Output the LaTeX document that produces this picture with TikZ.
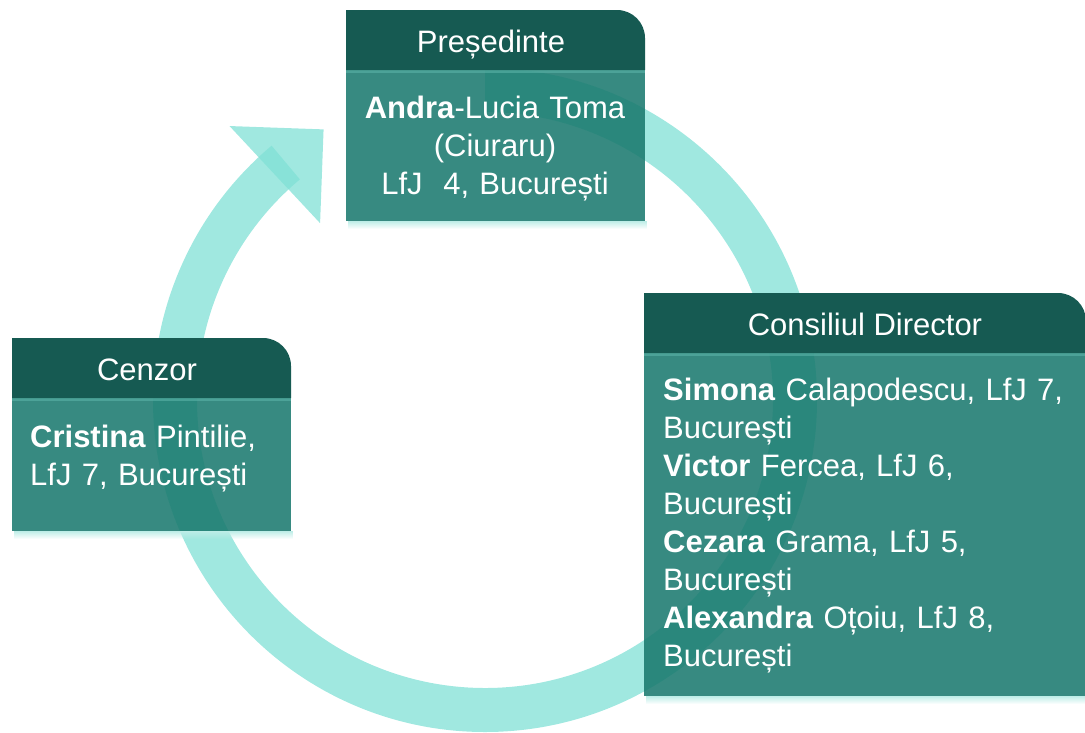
\documentclass[tikz,border=0pt]{standalone}
\usepackage{fontspec}
\setmainfont{Liberation Sans}
\usepackage{tikz}
\usetikzlibrary{calc,fadings}
\definecolor{headcol}{HTML}{165A52}
\definecolor{bodycol}{HTML}{19796E}
\definecolor{ringcol}{HTML}{80E0D5}
\definecolor{edgecol}{HTML}{5BB3A8}
\definecolor{glowcol}{HTML}{BDEDE7}
\tikzset{
    ring/.style={
        fill=ringcol,
        opacity=0.75
    },
    cardbody/.style={
        fill=bodycol,
        opacity=0.87
    },
    cardhead/.style={
        fill=headcol
    },
    headtext/.style={
        text=white,
        inner sep=0pt,
        anchor=base,
        font=\fontsize{31}{38}\selectfont
    },
    bodytext/.style={
        text=white,
        inner sep=0pt,
        anchor=base west,
        align=left,
        font=\fontsize{31}{38}\selectfont
    }
}

\begin{document}
\begin{tikzpicture}[x=1pt, y=1pt]
    \useasboundingbox (0,0) rectangle (1085,-732);
    \coordinate (ctr) at (485,-400);

    % Circular arrow behind the cards
    \fill[ring] (ctr) ++(90:332) arc[start angle=90, end angle=-230, radius=332]
        -- ($(ctr)+(-230:288)$) arc[start angle=-230, end angle=90, radius=288] -- cycle;
    \fill[ring] ($(ctr)+(133:374.6)$) -- ($(ctr)+(133:308)+(43:66.5)$)
        -- ($(ctr)+(133:241.8)$) -- cycle;

    % Presedinte card
    \fill[glowcol, path fading=south] (348,-221) rectangle (647,-229);
    \fill[cardbody] (346,-70) rectangle (645,-221);
    \fill[edgecol, opacity=0.6] (346,-70) rectangle (645,-73);
    \fill[cardhead] (346,-70) -- (346,-10) -- (617,-10)
        arc[start angle=90, end angle=0, radius=28] -- (645,-70) -- cycle;
    \node[headtext] (pres) at (491,-52) {Președinte};
    \node[headtext, text width=290pt, align=center] (presText) at (495,-118)
        {\textbf{Andra}-Lucia Toma\\(Ciuraru)\\LfJ\ \ 4, București};

    % Cenzor card
    \fill[glowcol, path fading=south] (14,-531) rectangle (293,-539);
    \fill[cardbody] (12,-398) rectangle (291,-531);
    \fill[edgecol, opacity=0.6] (12,-398) rectangle (291,-401);
    \fill[cardhead] (12,-398) -- (12,-338) -- (263,-338)
        arc[start angle=90, end angle=0, radius=28] -- (291,-398) -- cycle;
    \node[headtext] (cenz) at (147,-380) {Cenzor};
    \node[bodytext, text width=250pt] (cenzText) at (30,-447)
        {\textbf{Cristina} Pintilie,\\LfJ 7, București};

    % Consiliul Director card
    \fill[glowcol, path fading=south] (646,-696) rectangle (1088,-704);
    \fill[cardbody] (644,-353) rectangle (1086,-696);
    \fill[edgecol, opacity=0.6] (644,-353) rectangle (1086,-356);
    \fill[cardhead] (644,-353) -- (644,-293) -- (1058,-293)
        arc[start angle=90, end angle=0, radius=28] -- (1086,-353) -- cycle;
    \node[headtext] (cons) at (865,-335) {Consiliul Director};
    \node[bodytext, text width=410pt] (consText) at (663,-400)
        {\textbf{Simona} Calapodescu, LfJ 7,\\București\\
         \textbf{Victor} Fercea, LfJ 6,\\București\\
         \textbf{Cezara} Grama, LfJ 5,\\București\\
         \textbf{Alexandra} Oțoiu, LfJ 8,\\București};
\end{tikzpicture}
\end{document}
